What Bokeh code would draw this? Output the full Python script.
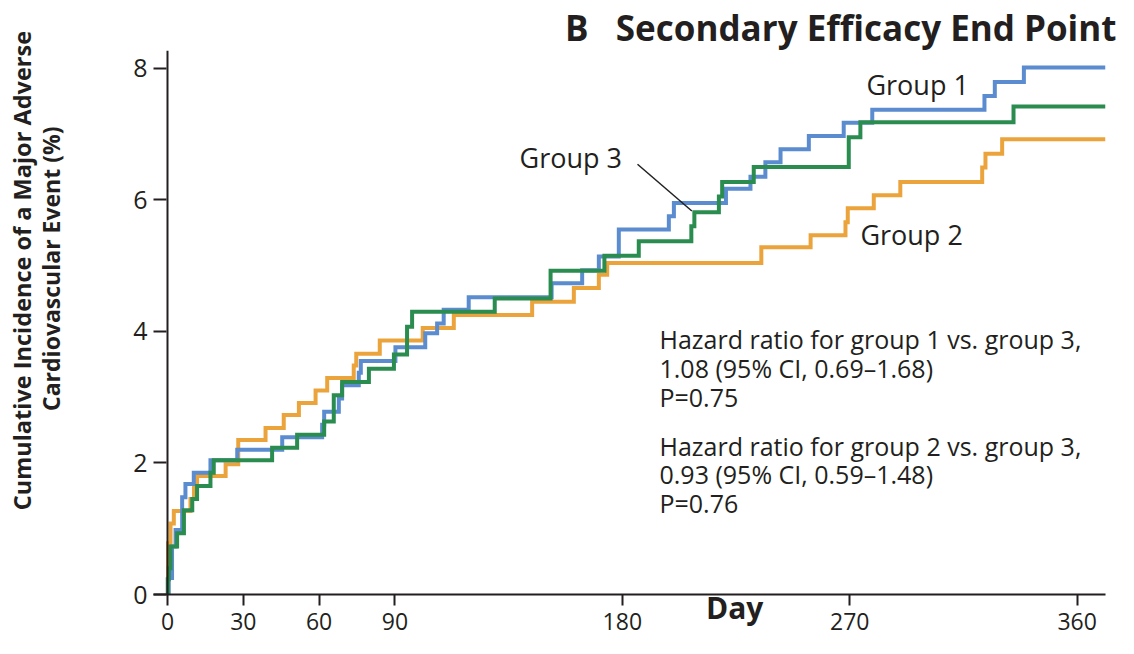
from bokeh.plotting import figure
from bokeh.models import Range1d, FixedTicker, Label, Span, LinearAxis
from bokeh.embed import file_html
from bokeh.resources import INLINE

# ---------------- data ----------------
x_ticks = [0, 30, 60, 90, 180, 270, 360]
y_ticks = [0, 2, 4, 6, 8]
x_end = 371.2

g1_days = [0, 0.5, 1.8, 3.2, 5.8, 7.1, 10.4, 17.0, 27.6, 45.4, 61.2, 62.0, 67.8, 69.1,
           75.7, 76.5, 90.2, 102.0, 106.7, 109.3, 119.2, 152.0, 164.1, 170.7, 178.6,
           198.4, 200.4, 221.0, 230.7, 236.6, 242.6, 253.8, 267.6, 278.9, 323.3, 327.4, 338.9]
g1_vals = [0, 0.25, 0.73, 0.98, 1.48, 1.68, 1.85, 2.04, 2.20, 2.39, 2.58, 2.78, 2.98, 3.18,
           3.37, 3.55, 3.76, 3.97, 4.12, 4.33, 4.52, 4.73, 4.93, 5.14, 5.55,
           5.75, 5.95, 6.17, 6.35, 6.57, 6.77, 6.97, 7.17, 7.37, 7.58, 7.79, 8.01]

g2_days = [0, 0.2, 1.2, 2.5, 9.1, 10.5, 11.7, 23.0, 28.0, 38.8, 46.0, 52.0, 58.6, 63.2,
           73.7, 74.7, 84.0, 101.0, 113.3, 144.3, 160.8, 170.7, 174.0, 235.0, 254.5,
           268.3, 269.2, 279.5, 290.0, 322.4, 323.7, 330.3]
g2_vals = [0, 0.78, 1.08, 1.27, 1.45, 1.62, 1.80, 1.98, 2.35, 2.53, 2.73, 2.91, 3.10, 3.29,
           3.48, 3.66, 3.86, 4.05, 4.25, 4.45, 4.66, 4.86, 5.04, 5.28, 5.46,
           5.66, 5.87, 6.07, 6.27, 6.49, 6.70, 6.92]

g3_days = [0, 0.1, 0.5, 1.2, 3.8, 6.5, 9.8, 11.7, 17.0, 18.3, 41.4, 51.3, 62.0, 65.8,
           69.1, 79.7, 89.6, 94.8, 96.8, 129.5, 151.6, 172.9, 186.5, 207.3, 208.5,
           218.2, 219.5, 232.0, 269.6, 274.2, 334.8]
g3_vals = [0, 0.23, 0.40, 0.73, 0.93, 1.28, 1.45, 1.65, 1.85, 2.04, 2.23, 2.43, 2.63, 3.03,
           3.23, 3.43, 3.65, 4.07, 4.30, 4.50, 4.92, 5.15, 5.37, 5.60, 5.81,
           6.05, 6.27, 6.50, 6.95, 7.18, 7.42]

series_names = ["Group 1", "Group 2", "Group 3"]
hr_lines = [
    "Hazard ratio for group 1 vs. group 3,",
    "1.08 (95% CI, 0.69\u20131.68)",
    "P=0.75",
    "Hazard ratio for group 2 vs. group 3,",
    "0.93  (95% CI, 0.59\u20131.48)",
    "P=0.76",
]
title_text = "B\u00a0\u00a0\u00a0Secondary Efficacy End Point"
x_title = "Day"
y_title = ["Cumulative Incidence of a Major Adverse", "Cardiovascular Event (%)"]

# ---------------- styling ----------------
FONT = "Open Sans"
TXT = "#231f20"
BLUE = "#5a8ccf"
ORANGE = "#eba33c"
GREEN = "#2a8c4f"
NB = "\u00a0"

p = figure(width=1118, height=638, output_backend="svg", toolbar_location=None,
           x_range=Range1d(-5.54, x_end), y_range=Range1d(0, 8.27),
           min_border_left=153, min_border_right=13, min_border_top=50, min_border_bottom=44)
p.outline_line_color = None
p.xgrid.grid_line_color = None
p.ygrid.grid_line_color = None
p.background_fill_color = "white"

# title
p.title.text = title_text
p.title.align = "right"
p.title.offset = -11
p.title.standoff = 0
p.title.text_font = FONT
p.title.text_font_size = "35px"
p.title.text_font_style = "bold"
p.title.text_color = TXT

xa = p.xaxis[0]
xa.ticker = FixedTicker(ticks=x_ticks)
xa.axis_line_color = TXT
xa.axis_line_width = 2
xa.major_tick_line_color = TXT
xa.major_tick_line_width = 2
xa.major_tick_out = 11
xa.major_tick_in = 0
xa.minor_tick_line_color = None
xa.major_label_text_font = FONT
xa.major_label_text_font_size = "23px"
xa.major_label_text_color = TXT
xa.major_label_standoff = 7
xa.axis_label = NB * 27 + x_title
xa.axis_label_text_font = FONT
xa.axis_label_text_font_size = "30px"
xa.axis_label_text_font_style = "bold"
xa.axis_label_text_color = TXT
xa.axis_label_standoff = -46

ya = p.yaxis[0]
ya.ticker = FixedTicker(ticks=y_ticks)
ya.axis_line_color = None
ya.major_tick_line_color = TXT
ya.major_tick_line_width = 2
ya.major_tick_out = 0
ya.major_tick_in = 13
ya.minor_tick_line_color = None
ya.major_label_text_font = FONT
ya.major_label_text_font_size = "25px"
ya.major_label_text_color = TXT
ya.major_label_standoff = 6
ya.axis_label = NB * 18 + y_title[1]
ya.axis_label_text_font = FONT
ya.axis_label_text_font_size = "23px"
ya.axis_label_text_font_style = "bold"
ya.axis_label_text_color = TXT
ya.axis_label_standoff = 63

# outer line of the y-axis title (an axis with no ticks)
ya2 = LinearAxis(ticker=FixedTicker(ticks=[]), axis_line_color=None,
                 major_tick_line_color=None, minor_tick_line_color=None,
                 major_tick_out=0, major_tick_in=0, major_label_standoff=0,
                 axis_label=NB * 17 + y_title[0], axis_label_standoff=-5,
                 axis_label_text_font=FONT, axis_label_text_font_size="23.5px",
                 axis_label_text_font_style="bold", axis_label_text_color=TXT)
p.add_layout(ya2, "left")

p.add_layout(Span(location=0, dimension="height", line_color=TXT, line_width=2))


def extend(days, vals):
    return list(days) + [x_end], list(vals) + [vals[-1]]


for d, v, c in [(g2_days, g2_vals, ORANGE), (g1_days, g1_vals, BLUE), (g3_days, g3_vals, GREEN)]:
    xs, ys = extend(d, v)
    p.step(xs, ys, mode="after", line_color=c, line_width=4, line_join="miter")

# leader line for Group 3
p.line([186, 207.5], [6.54, 5.83], line_color=TXT, line_width=1.5)


def lab(x, y, text, size):
    p.add_layout(Label(x=x, y=y, text=text, text_font=FONT, text_font_size=size,
                       text_color=TXT, text_align="left", text_baseline="middle"))


# series labels
lab(276.6, 7.76, series_names[0], "27px")
lab(274.2, 5.47, series_names[1], "27px")
lab(139.3, 6.65, series_names[2], "27px")

# hazard ratio text
hr_y = [3.89, 3.45, 3.00, 2.26, 1.83, 1.39]
for t, yy in zip(hr_lines, hr_y):
    lab(194.7, yy, t, "25px")

open("out.html", "w").write(file_html(p, INLINE))
